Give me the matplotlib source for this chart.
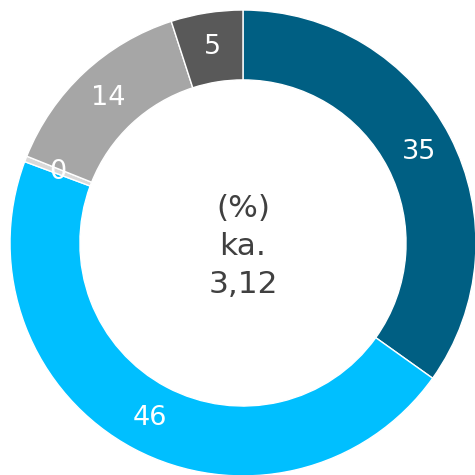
import matplotlib
matplotlib.use("Agg")
import matplotlib.pyplot as plt

values = [35, 46, 0.4, 14, 5]
labels = ["35", "46", "0", "14", "5"]
colors = ["#005F83", "#00BFFF", "#D9D9D9", "#A6A6A6", "#595959"]
center_text = "(%)\nka.\n3,12"

fig = plt.figure(figsize=(4.75, 4.75), dpi=100)
ax = fig.add_axes([0, 0, 1, 1])
wedges, texts = ax.pie(
    values, colors=colors, startangle=90, counterclock=False,
    labels=labels, labeldistance=0.85,
    wedgeprops=dict(width=0.3, edgecolor="white", linewidth=1),
    textprops=dict(color="white", fontsize=19.5, ha="center", va="center"),
)
ax.text(0, -0.015, center_text, ha="center", va="center", fontsize=22.5,
        color="#404040", linespacing=1.38)
ax.set_xlim(-1.043, 0.996)
ax.set_ylim(-0.996, 1.043)
ax.set_aspect("equal")
ax.axis("off")
fig.savefig("out.png", dpi=100)
